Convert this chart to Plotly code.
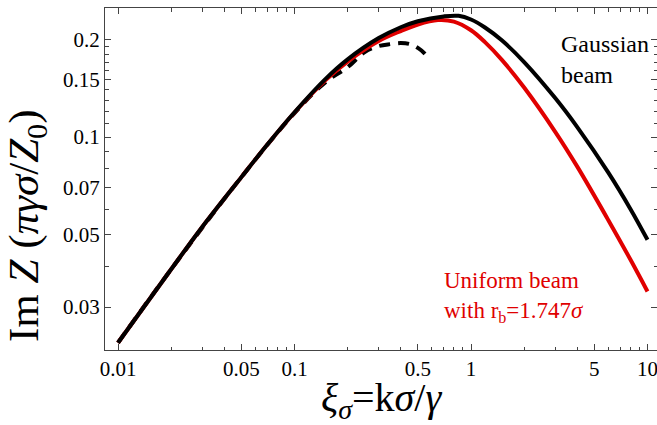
import plotly.graph_objects as go

# Gaussian beam (solid black)
xi_gauss = [0.01, 0.02, 0.03, 0.05, 0.07, 0.1, 0.15, 0.2, 0.3, 0.4, 0.5, 0.7, 0.85, 1.0, 1.2, 1.5,
            2, 3, 4, 6, 8, 10]
im_gauss = [0.0233, 0.0392, 0.0529, 0.0753, 0.0947, 0.1192, 0.1510, 0.1734, 0.2016, 0.2177, 0.2272,
            0.2350, 0.2360, 0.2299, 0.2173, 0.1981, 0.1701, 0.1318, 0.1073, 0.0777, 0.0601, 0.0483]

# Uniform beam with r_b = 1.747 sigma (solid red)
xi_unif = [0.01, 0.02, 0.03, 0.05, 0.07, 0.1, 0.15, 0.2, 0.3, 0.4, 0.5, 0.65, 0.8, 1.0, 1.2, 1.5,
           2, 3, 4, 6, 8, 10]
im_unif = [0.0233, 0.0392, 0.0529, 0.0753, 0.0947, 0.1190, 0.1497, 0.1707, 0.1974, 0.2119, 0.2220,
           0.2291, 0.2266, 0.2131, 0.1959, 0.1725, 0.1420, 0.1038, 0.0811, 0.0555, 0.0420, 0.0335]

# Asymptotic approximation (dashed black)
xi_asym = [0.01, 0.02, 0.05, 0.1, 0.15, 0.2, 0.25, 0.3, 0.35, 0.4, 0.45, 0.5, 0.55, 0.58]
im_asym = [0.0233, 0.0392, 0.0753, 0.1185, 0.1476, 0.1640, 0.1827, 0.1906, 0.1932, 0.1946, 0.1932,
           0.1880, 0.1800, 0.1725]

x_ticks = [0.01, 0.05, 0.1, 0.5, 1, 5, 10]
x_ticktext = ["0.01", "0.05", "0.1", "0.5", "1", "5", "10"]
x_minor = [0.02, 0.03, 0.04, 0.06, 0.07, 0.08, 0.09, 0.2, 0.3, 0.4, 0.6, 0.7, 0.8, 0.9,
           2, 3, 4, 6, 7, 8, 9]
y_ticks = [0.03, 0.05, 0.07, 0.1, 0.15, 0.2]
y_ticktext = ["0.03", "0.05", "0.07", "0.1", "0.15", "0.2"]
y_minor = [0.04, 0.06, 0.08, 0.09, 0.11, 0.12, 0.13, 0.14, 0.16, 0.17, 0.18, 0.19]

SERIF = "Liberation Serif, Times New Roman, serif"

fig = go.Figure()
fig.add_trace(go.Scatter(x=xi_asym, y=im_asym, mode="lines", line_shape="spline",
                         line=dict(color="black", width=4, dash="11px,8px"), showlegend=False))
fig.add_trace(go.Scatter(x=xi_unif, y=im_unif, mode="lines", line_shape="spline",
                         line=dict(color="#e00000", width=4), showlegend=False))
fig.add_trace(go.Scatter(x=xi_gauss, y=im_gauss, mode="lines", line_shape="spline",
                         line=dict(color="black", width=4), showlegend=False))

axis_common = dict(showgrid=False, zeroline=False, showline=True, linecolor="#444", linewidth=1,
                   mirror="allticks", ticks="inside", ticklen=6, tickwidth=1, tickcolor="#444",
                   tickfont=dict(family=SERIF, size=21, color="black"))

fig.update_xaxes(type="log", range=[-2.0737, 1.0538], tickmode="array", tickvals=x_ticks,
                 ticktext=x_ticktext, ticklabeloverflow="allow",
                 minor=dict(ticks="inside", ticklen=3.5, tickcolor="#444", tickmode="array",
                            tickvals=x_minor),
                 **axis_common)
fig.update_yaxes(type="log", range=[-1.655, -0.603], tickmode="array", tickvals=y_ticks,
                 ticktext=y_ticktext,
                 minor=dict(ticks="inside", ticklen=3.5, tickcolor="#444", tickmode="array",
                            tickvals=y_minor),
                 **axis_common)

fig.add_annotation(text="Im <i>Z</i> (<i>πγσ</i>/<i>Z</i><sub>0</sub>)", xref="paper", yref="paper",
                   x=-0.141, y=0.363, xanchor="center", yanchor="middle", textangle=-90,
                   showarrow=False, font=dict(family=SERIF, size=43, color="black"))
fig.add_annotation(text="<i>ξ<sub>σ</sub></i>=k<i>σ</i>/<i>γ</i>", xref="paper", yref="paper",
                   x=0.5, y=-0.146, xanchor="center", yanchor="middle", showarrow=False,
                   font=dict(family=SERIF, size=40, color="black"))
fig.add_annotation(text="Gaussian<br>beam", xref="paper", yref="paper", x=0.822, y=0.849,
                   xanchor="left", yanchor="middle", align="left", showarrow=False,
                   font=dict(family=SERIF, size=24, color="black"))
fig.add_annotation(text="Uniform beam<br>with r<sub>b</sub>=1.747<i>σ</i>", xref="paper", yref="paper",
                   x=0.611, y=0.156, xanchor="left", yanchor="middle", align="left", showarrow=False,
                   font=dict(family=SERIF, size=23, color="#e00000"))

fig.update_layout(width=657, height=425, margin=dict(l=105, r=0, t=8, b=75),
                  plot_bgcolor="white", paper_bgcolor="white")

fig.write_html("out.html", config={"displayModeBar": False},
               post_script="document.body.style.margin='0';document.body.style.padding='0';")
